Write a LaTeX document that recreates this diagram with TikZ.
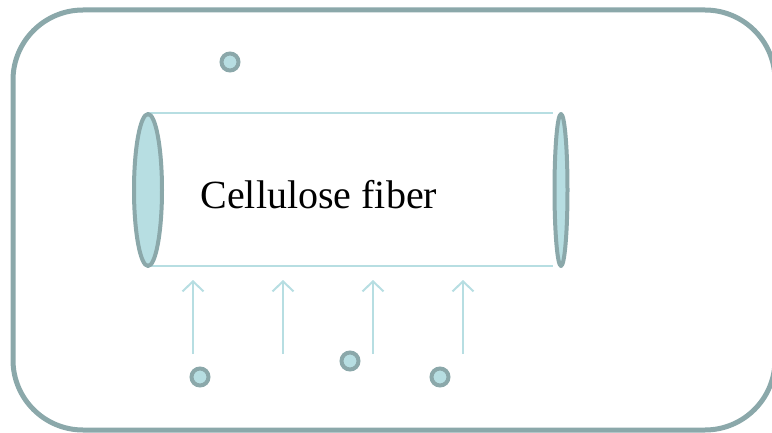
\documentclass[tikz,border=0pt]{standalone}
\usepackage{fontspec}
\setmainfont{Liberation Serif}
\usetikzlibrary{arrows.meta, shapes.geometric}
\definecolor{rimgray}{HTML}{8BA8AA}
\definecolor{paleteal}{HTML}{B7DEE2}

\begin{document}
\begin{tikzpicture}[
  x=1pt, y=-1pt,
  endcap/.style={draw=rimgray, fill=paleteal, line width=4pt, line join=round},
  particle/.style={circle, draw=rimgray, fill=paleteal, line width=4pt, minimum size=17pt, inner sep=0pt},
  flow/.style={draw=paleteal, line width=2pt, -{Straight Barb[length=10pt, width=21pt]}}
]
  \useasboundingbox (0,0) rectangle (772,433);

  % Outer frame
  \draw[rimgray, line width=5pt, rounded corners=70pt] (13,10) rectangle (775,430);

  % Fiber (tube)
  \coordinate (endL) at (148,190);
  \coordinate (endR) at (561,190);
  \draw[paleteal, line width=1.5pt] (148,113) -- (553,113) (148,266) -- (553,266);
  \draw[endcap] (endL) ellipse [x radius=14, y radius=76];
  \draw[endcap] (endR) ellipse [x radius=6.5, y radius=76];
  \node[anchor=base west, font=\fontsize{40}{48}\selectfont] (label) at (197,209) {Cellulose fiber};

  % Particles
  \node[particle] (p1) at (230,62) {};
  \node[particle] (p2) at (200,377) {};
  \node[particle] (p3) at (350,361) {};
  \node[particle] (p4) at (440,377) {};

  % Arrows towards the fiber
  \foreach \i/\xx in {1/193, 2/283, 3/373, 4/463} {
    \coordinate (a\i) at (\xx,354);
    \coordinate (b\i) at (\xx,280);
    \draw[flow] (a\i) -- (b\i);
  }
\end{tikzpicture}
\end{document}
